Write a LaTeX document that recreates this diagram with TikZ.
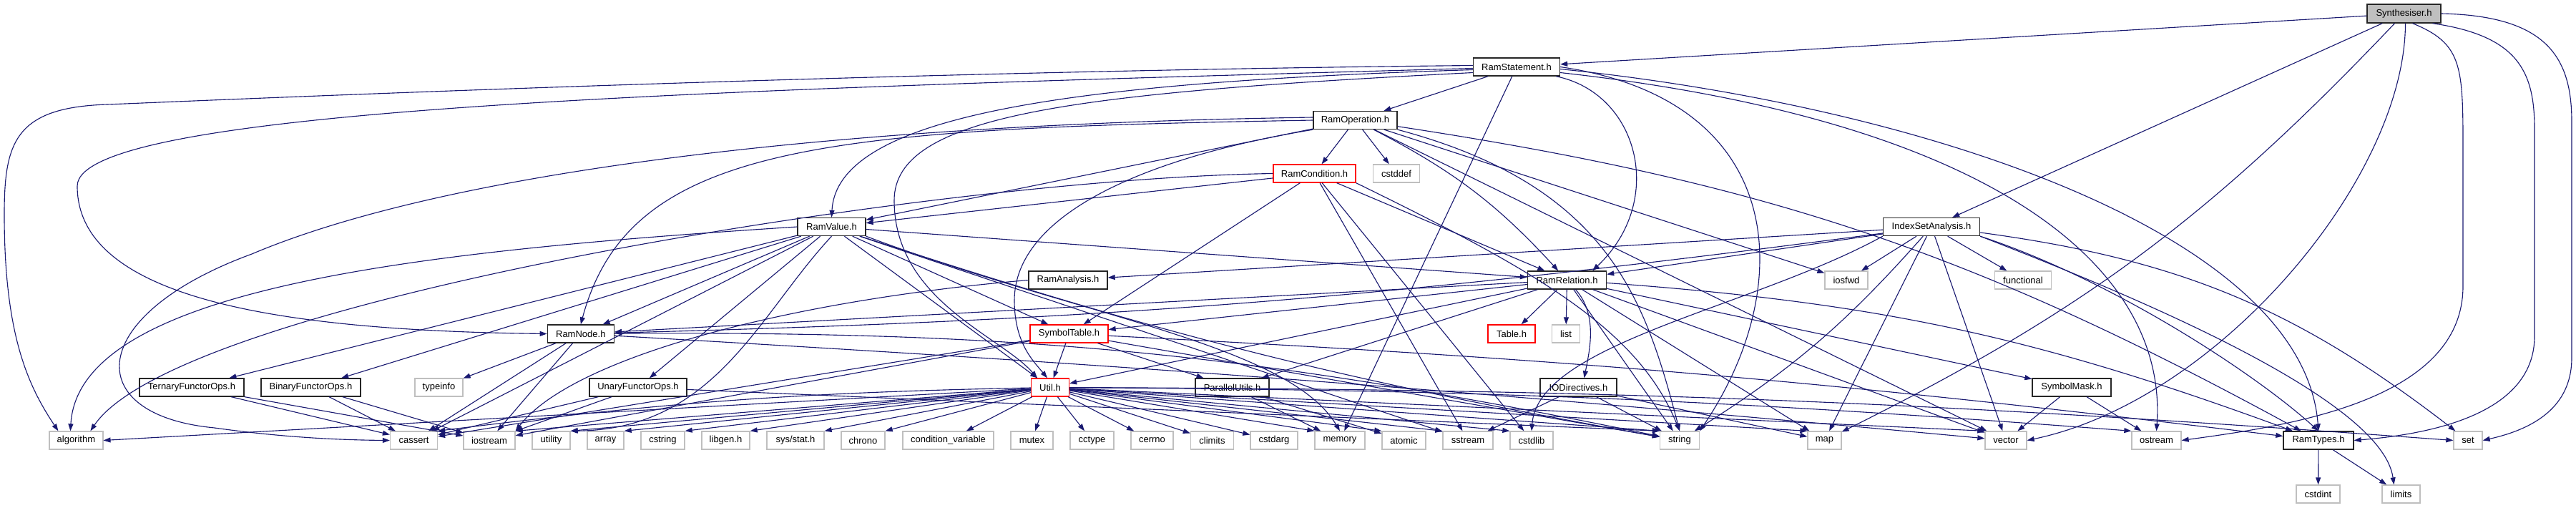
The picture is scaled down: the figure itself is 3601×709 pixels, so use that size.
\documentclass[tikz,border=0pt]{standalone}
\usepackage{fontspec}
\setmainfont{Liberation Sans}
\usetikzlibrary{arrows.meta}
\definecolor{depNavy}{RGB}{25,25,112}
\definecolor{sysGray}{RGB}{191,191,191}
\definecolor{truncRed}{RGB}{255,0,0}

\begin{document}
\begin{tikzpicture}[x=0.25pt, y=0.25pt,
  hfile/.style={draw=black!85, line width=0.33pt, fill=white, inner sep=0pt,
                minimum height=6.25pt, font=\fontsize{3.25pt}{3.75pt}\selectfont},
  sysinc/.style={hfile, draw=sysGray},
  trunc/.style={hfile, draw=truncRed},
  rootfile/.style={hfile, fill=sysGray, minimum height=6.5pt},
  wd/.style={minimum width=#1*0.25pt},
  dep/.style={draw=depNavy, line width=0.28pt, -{Triangle[length=2.5pt,width=1.75pt]}}
]
  \useasboundingbox (0,0) rectangle (3601,-709);

  \node[rootfile, wd=103] (syn)     at (3360.5,-19)   {Synthesiser.h};
  \node[hfile,    wd=121] (stmt)    at (2120,-93.5)   {RamStatement.h};
  \node[hfile,    wd=117] (op)      at (1894.5,-168)  {RamOperation.h};
  \node[trunc,    wd=115] (cond)    at (1837.5,-242.5) {RamCondition.h};
  \node[sysinc,   wd=65]  (cstddef) at (1952,-242.5)  {cstddef};
  \node[hfile,    wd=95]  (val)     at (1162.5,-317)  {RamValue.h};
  \node[hfile,    wd=135] (isa)     at (2700,-317)    {IndexSetAnalysis.h};
  \node[hfile,    wd=110] (ana)     at (1493,-391.5)  {RamAnalysis.h};
  \node[hfile,    wd=110] (rel)     at (2190.5,-391.5) {RamRelation.h};
  \node[sysinc,   wd=60]  (iosfwd)  at (2581,-391.5)  {iosfwd};
  \node[sysinc,   wd=79]  (func)    at (2828,-391.5)  {functional};
  \node[hfile,    wd=93]  (rnode)   at (811.8,-466.5) {RamNode.h};
  \node[trunc,    wd=109] (symt)    at (1494.5,-466.5) {SymbolTable.h};
  \node[trunc,    wd=66]  (tab)     at (2113,-466.5)  {Table.h};
  \node[sysinc,   wd=39]  (lst)     at (2189,-466.5)  {list};
  \node[hfile,    wd=146] (tern)    at (268,-541.5)   {TernaryFunctorOps.h};
  \node[hfile,    wd=139] (bin)     at (434.5,-541.5) {BinaryFunctorOps.h};
  \node[sysinc,   wd=67]  (tinfo)   at (613.5,-541.5) {typeinfo};
  \node[hfile,    wd=136] (una)     at (892,-541.5)   {UnaryFunctorOps.h};
  \node[trunc,    wd=53]  (util)    at (1468,-541.5)  {Util.h};
  \node[hfile,    wd=103] (par)     at (1722.5,-541.5) {ParallelUtils.h};
  \node[hfile,    wd=107] (iod)     at (2206.5,-541.5) {IODirectives.h};
  \node[hfile,    wd=110] (smask)   at (2896,-541.5)  {SymbolMask.h};
  \node[sysinc,   wd=75]  (alg)     at (106.4,-615.5) {algorithm};
  \node[sysinc,   wd=66]  (cass)    at (578.5,-615.5) {cassert};
  \node[sysinc,   wd=72]  (iost)    at (684,-615.5)   {iostream};
  \node[sysinc,   wd=53]  (utl)     at (770.5,-615.5) {utility};
  \node[sysinc,   wd=51]  (arr)     at (846.5,-615.5) {array};
  \node[sysinc,   wd=61]  (cstr)    at (926.5,-615.5) {cstring};
  \node[sysinc,   wd=67]  (libg)    at (1014.5,-615.5) {libgen.h};
  \node[sysinc,   wd=80]  (sstat)   at (1112,-615.5)  {sys/stat.h};
  \node[sysinc,   wd=61]  (chr)     at (1206.5,-615.5) {chrono};
  \node[sysinc,   wd=127] (cvar)    at (1325.5,-615.5) {condition\_variable};
  \node[sysinc,   wd=59]  (mtx)     at (1442.5,-615.5) {mutex};
  \node[sysinc,   wd=61]  (cct)     at (1526.5,-615.5) {cctype};
  \node[sysinc,   wd=59]  (cerr)    at (1610.5,-615.5) {cerrno};
  \node[sysinc,   wd=60]  (clim)    at (1694.5,-615.5) {climits};
  \node[sysinc,   wd=66]  (carg)    at (1781,-615.5)  {cstdarg};
  \node[sysinc,   wd=70]  (mem)     at (1873,-615.5)  {memory};
  \node[sysinc,   wd=61]  (atom)    at (1962.5,-615.5) {atomic};
  \node[sysinc,   wd=70]  (sstr)    at (2052,-615.5)  {sstream};
  \node[sysinc,   wd=60]  (cstdl)   at (2141,-615.5)  {cstdlib};
  \node[sysinc,   wd=55]  (str)     at (2348,-615.5)  {string};
  \node[sysinc,   wd=47]  (mp)      at (2550.5,-615.5) {map};
  \node[sysinc,   wd=58]  (vec)     at (2804,-615.5)  {vector};
  \node[sysinc,   wd=69]  (ostr)    at (3014.5,-615.5) {ostream};
  \node[hfile,    wd=98]  (types)   at (3241,-615.5)  {RamTypes.h};
  \node[sysinc,   wd=40]  (st)      at (3450,-615.5)  {set};
  \node[sysinc,   wd=61]  (cint)    at (3240.5,-690.5) {cstdint};
  \node[sysinc,   wd=53]  (lim)     at (3356.5,-690.5) {limits};

  \draw[dep] (syn) -- (stmt);
  \draw[dep] (syn) -- (isa);
  \draw[dep] (syn) to[bend left=10] (mp);
  \draw[dep] ([xshift=0.5pt]syn.south) .. controls (3362,-250) and (3100,-560) .. (vec.east);
  \draw[dep] ([xshift=3pt]syn.south) .. controls (3440,-60) and (3443,-90) .. (3443,-200) -- (3443,-400) .. controls (3443,-560) and (3200,-595) .. (ostr.east);
  \draw[dep] ([xshift=10pt]syn.south) .. controls (3520,-50) and (3543,-100) .. (3543,-180) -- (3543,-470) .. controls (3543,-570) and (3420,-605) .. (types.east);
  \draw[dep] (syn.east) .. controls (3560,-22) and (3595,-80) .. (3595,-170) -- (3595,-500) .. controls (3595,-570) and (3540,-600) .. (st.east);

  \draw[dep] (stmt) -- (op);
  \draw[dep] ([yshift=-1pt]stmt.west) .. controls (1500,-115) and (1170,-160) .. (val.north);
  \draw[dep] ([yshift=-0.5pt]stmt.west) .. controls (1000,-125) and (108,-150) .. (108,-260) .. controls (108,-420) and (400,-462) .. (rnode.west);
  \draw[dep] ([yshift=0.5pt]stmt.west) .. controls (1200,-100) and (300,-140) .. (150,-146) .. controls (20,-150) and (6,-200) .. (6,-300) .. controls (6,-470) and (40,-540) .. ([xshift=-6.25pt]alg.north);
  \draw[dep] ([yshift=-2pt]stmt.west) .. controls (1500,-130) and (1250,-160) .. (1250,-280) .. controls (1250,-420) and (1400,-470) .. ([xshift=-4.5pt]util.north);
  \draw[dep] (stmt) -- (mem);
  \draw[dep] ([xshift=-1.5pt]stmt.south east) .. controls (2290,-130) and (2330,-280) .. ([xshift=-5pt]rel.north east);
  \draw[dep] (stmt.east) .. controls (2500,-140) and (2513,-400) .. (str.north east);
  \draw[dep] ([yshift=-0.75pt]stmt.east) .. controls (2700,-150) and (3220,-330) .. (types.north);
  \draw[dep] ([yshift=-2pt]stmt.east) .. controls (2800,-170) and (3030,-380) .. (ostr.north);

  \draw[dep] (op) -- (cond);
  \draw[dep] (op) -- (cstddef);
  \draw[dep] (op) -- (val);
  \draw[dep] (op.west) .. controls (1150,-180) and (880,-200) .. (rnode.north);
  \draw[dep] ([yshift=1pt]op.west) .. controls (1100,-175) and (600,-250) .. (352,-355) .. controls (120,-440) and (110,-580) .. (300,-598) .. controls (400,-612) and (480,-615) .. (cass.west);
  \draw[dep] (op.south west) .. controls (1600,-220) and (1418,-300) .. (1418,-420) .. controls (1418,-480) and (1445,-505) .. ([xshift=-1pt]util.north);
  \draw[dep] (op) to[bend left=10] (rel);
  \draw[dep] (op.south east) .. controls (2250,-260) and (2300,-420) .. (str.north);
  \draw[dep] (op) -- (iosfwd);
  \draw[dep] (op) to[bend left=10] (types);
  \draw[dep] (op) -- (vec);

  \draw[dep] (cond) -- (val);
  \draw[dep] (cond) -- (symt);
  \draw[dep] (cond) -- (rel);
  \draw[dep] (cond.west) .. controls (1300,-250) and (250,-420) .. ([xshift=5pt]alg.north);
  \draw[dep] (cond) -- (sstr);
  \draw[dep] (cond) -- (cstdl);
  \draw[dep] (cond.south east) .. controls (2150,-380) and (2290,-460) .. (str.north);

  \draw[dep] (val) -- (rnode);
  \draw[dep] (val.west) .. controls (600,-350) and (110,-400) .. ([xshift=-2pt]alg.north);
  \draw[dep] (val) -- (util);
  \draw[dep] (val) -- (symt);
  \draw[dep] (val) -- (tern);
  \draw[dep] (val) -- (bin);
  \draw[dep] (val) -- (una);
  \draw[dep] (val) -- (cass);
  \draw[dep] (val) -- (rel);
  \draw[dep] (val) to[bend right=4] (str);
  \draw[dep] (val) -- (sstr);
  \draw[dep] (val.south east) .. controls (1500,-440) and (1800,-480) .. (mem.north);
  \draw[dep] (val.south) .. controls (1060,-440) and (1000,-600) .. (utl.north east);

  \draw[dep] (isa) -- (ana);
  \draw[dep] (isa) -- (rel);
  \draw[dep] (isa) to[bend left=3] (rnode);
  \draw[dep] (isa) -- (iosfwd);
  \draw[dep] (isa) -- (func);
  \draw[dep] (isa.south west) .. controls (2450,-430) and (2150,-480) .. (cstdl.north);
  \draw[dep] (isa) -- (mp);
  \draw[dep] (isa) -- (vec);
  \draw[dep] (isa) to[bend left=8] (str);
  \draw[dep] (isa) to[bend left=15] (st);
  \draw[dep] (isa.south east) .. controls (2950,-390) and (3150,-520) .. (types.north);
  \draw[dep] (isa.south east) .. controls (3000,-420) and (3330,-560) .. ([xshift=-2.5pt]lim.north);

  \draw[dep] (ana.west) .. controls (1100,-420) and (800,-500) .. (iost.north east);

  \draw[dep] (rel) -- (rnode);
  \draw[dep] (rel) -- (symt);
  \draw[dep] (rel) -- (util);
  \draw[dep] (rel) -- (par);
  \draw[dep] (rel) -- (tab);
  \draw[dep] (rel) -- (lst);
  \draw[dep] ([xshift=3pt]rel.south) .. controls (2234,-440) and (2222,-490) .. ([xshift=2pt]iod.north);
  \draw[dep] (rel) -- (smask);
  \draw[dep] (rel) to[bend left=8] (types);
  \draw[dep] (rel) -- (str);
  \draw[dep] (rel) -- (mp);
  \draw[dep] (rel) -- (vec);

  \draw[dep] (symt) -- (util);
  \draw[dep] (symt) -- (par);
  \draw[dep] (symt) to[bend left=2] (types);
  \draw[dep] (symt) -- (cass);
  \draw[dep] (symt) -- (iost);
  \draw[dep] (symt) -- (str);

  \draw[dep] (rnode) -- (tinfo);
  \draw[dep] (rnode) -- (iost);
  \draw[dep] (rnode) -- (cass);
  \draw[dep] (rnode) to[bend left=6] (str);
  \draw[dep] (rnode) to[bend left=1] (vec);

  \draw[dep] (tern) -- (cass);
  \draw[dep] (tern) -- (iost);
  \draw[dep] (bin) -- (cass);
  \draw[dep] (bin) -- (iost);
  \draw[dep] (una) -- (cass);
  \draw[dep] (una) -- (iost);
  \draw[dep] (una) -- (str.north west);

  \draw[dep] (util) -- (alg.east);
  \draw[dep] (util) to[bend right=3] (cass.north east);
  \draw[dep] (util) -- (iost.north east);
  \draw[dep] (util) -- (utl.north east);
  \draw[dep] (util) -- (arr.north east);
  \draw[dep] (util) -- (cstr.north east);
  \draw[dep] (util) -- (libg.north east);
  \draw[dep] (util) -- (sstat.north east);
  \draw[dep] (util) -- (chr.north east);
  \draw[dep] (util) -- (cvar);
  \draw[dep] (util) -- (mtx);
  \draw[dep] (util) -- (cct);
  \draw[dep] (util) -- (cerr);
  \draw[dep] (util) -- (clim);
  \draw[dep] (util) -- (carg);
  \draw[dep] (util) -- (mem.north west);
  \draw[dep] (util) -- (atom.north west);
  \draw[dep] (util) -- (sstr.north west);
  \draw[dep] (util) -- (cstdl.north west);
  \draw[dep] (util) -- (str.north west);
  \draw[dep] (util) -- (mp.north west);
  \draw[dep] (util) -- (vec.north west);
  \draw[dep] (util) to[bend left=2] (ostr.north west);
  \draw[dep] (util) to[bend left=2] (st.west);

  \draw[dep] (par) -- (atom);
  \draw[dep] (par) -- (mem);
  \draw[dep] (iod) -- (sstr);
  \draw[dep] (iod) -- (str);
  \draw[dep] (iod) -- (mp);
  \draw[dep] (smask) -- (vec);
  \draw[dep] (smask) -- (ostr);
  \draw[dep] (types) -- (cint);
  \draw[dep] (types) -- (lim);
\end{tikzpicture}
\end{document}
